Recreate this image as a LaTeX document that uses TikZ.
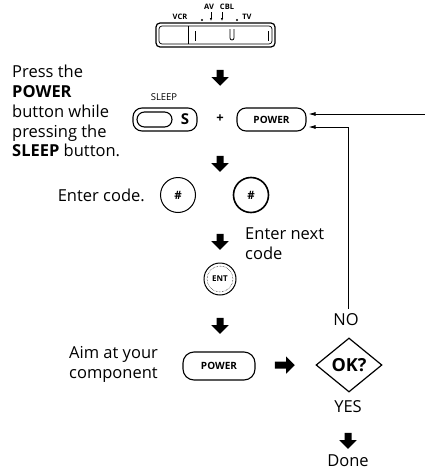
\documentclass[tikz,border=0pt]{standalone}
\usepackage{fontspec}
\setmainfont{Open Sans}
\usetikzlibrary{shapes.arrows,shapes.geometric,arrows.meta,calc}
\newcommand{\mainfs}{\fontsize{16.5}{19.8}\selectfont}
\begin{document}
\begin{tikzpicture}[x=1pt,y=-1pt,
  blk/.style={single arrow, fill=black, draw=none, inner sep=3.3pt, minimum height=16pt, minimum width=17pt, single arrow head extend=5.2pt, shape border rotate=270},
  blkr/.style={blk, shape border rotate=0, minimum height=20pt},
  btn/.style={draw, rounded corners=9pt, line width=1.1pt, minimum height=23pt, inner sep=0pt, font=\bfseries\fontsize{10}{10}\selectfont},
  keyc/.style={circle, draw, minimum size=35pt, inner sep=0pt, line width=1pt, font=\bfseries\fontsize{11.5}{12}\selectfont},
  txt/.style={inner sep=0pt, font=\mainfs},
  arr/.style={-{Latex[length=7pt,width=4pt]}, line width=0.8pt},
  tiny/.style={inner sep=0pt, font=\bfseries\fontsize{7.5}{8}\selectfont}]
\useasboundingbox (0,0) rectangle (425,474);
% selector switch
\draw[line width=1.2pt, rounded corners=4pt] (156,23) rectangle (275,47);
\draw[line width=0.7pt, rounded corners=3pt] (159,26) rectangle (272,44);
\draw[line width=1pt] (188,26) -- (188,44);
\draw[line width=0.6pt] (195,31) -- (195,41);
\draw[line width=0.6pt] (268,31) -- (268,41);
\draw[line width=0.8pt] (230,29) -- (230,38) arc[start angle=180, end angle=0, radius=2] -- (234,29);
\node[tiny] (vcr) at (180,17) {VCR};
\node[tiny] (av) at (209,7) {AV};
\node[tiny] (cbl) at (227,7) {CBL};
\node[tiny] (tv) at (247,17) {TV};
\fill (202,20) circle (1.1pt);
\fill (237,20) circle (1.1pt);
\draw[-{Latex[length=3pt,width=2.5pt]}, line width=0.6pt] (211,12) -- (211,21);
\draw[-{Latex[length=3pt,width=2.5pt]}, line width=0.6pt] (222,12) -- (222,21);
% step 1
\node[blk] (a1) at (220,76) {};
\node[txt, anchor=north west, align=left] (inst) at (12,65) {Press the\\\textbf{POWER}\\button while\\pressing the\\\textbf{SLEEP} button.};
\node[inner sep=0pt, font=\fontsize{9.5}{10}\selectfont] (sleeplbl) at (164,97) {SLEEP};
\node[btn, minimum width=64pt] (sbtn) at (165,119.5) {};
\node[draw, rounded corners=7.5pt, minimum width=35pt, minimum height=15pt, inner sep=0pt, line width=1.1pt] (soval) at (154.5,119.5) {};
\node[inner sep=0pt, font=\bfseries\fontsize{15}{15}\selectfont] (slet) at (185,119.5) {S};
\node[inner sep=0pt, font=\bfseries\fontsize{13}{13}\selectfont] (plus) at (220,119) {+};
\node[btn, minimum width=69pt] (pw1) at (271.5,119.5) {POWER};
% step 2
\node[blk] (a2) at (220,162) {};
\node[txt, anchor=east] (ec) at (145,195) {Enter code.};
\node[keyc] (h1) at (178,195) {\#};
\node[keyc, line width=1.6pt] (h2) at (251,195) {\#};
% step 3
\node[blk] (a3) at (220,240) {};
\node[txt, anchor=north west, align=left] (next) at (245,228) {Enter next\\code};
\node[circle, draw, minimum size=32pt, inner sep=0pt, line width=1pt, font=\bfseries\fontsize{8}{8}\selectfont] (ent) at (220,279) {ENT};
\node[circle, draw, densely dotted, minimum size=26pt, inner sep=0pt, line width=0.5pt] (entin) at (ent) {};
% step 4
\node[blk] (a4) at (220,324) {};
\node[txt, anchor=north west, align=left] (aim) at (69,346) {Aim at your\\component};
\node[btn, minimum width=72pt, minimum height=28pt, rounded corners=11pt] (pw2) at (219,366) {POWER};
\node[blkr] (ar) at (283,365) {};
\node[diamond, draw, line width=1.2pt, minimum width=66pt, minimum height=54pt, inner sep=0pt, font=\bfseries\fontsize{18}{18}\selectfont] (ok) at (349,365) {OK?};
\node[txt] (no) at (346,320) {NO};
\node[txt] (yes) at (348,407) {YES};
\node[blk] (a5) at (348,439) {};
\node[txt] (done) at (348,461) {Done};
% loop connectors
\coordinate (rin) at (425,114);
\draw[arr] (rin) -- ($(pw1.east)+(2,-5.5)$);
\draw[arr] ($(no.north)+(2,-5)$) |- ($(pw1.east)+(2,7.5)$);
\end{tikzpicture}
\end{document}
